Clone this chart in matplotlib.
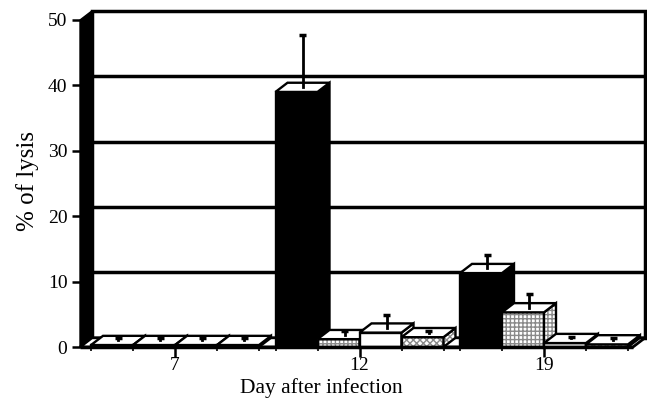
import matplotlib
matplotlib.use("Agg")
import matplotlib.pyplot as plt
from matplotlib.patches import Polygon

plt.rcParams['font.family'] = ['Liberation Serif', 'DejaVu Serif']
plt.rcParams['hatch.linewidth'] = 1.0

# ---- data ----
days = ['7', '12', '19']
black_vals = [0.3, 39.0, 11.3]
black_err = [0.4, 8.0, 2.0]
dotted_vals = [0.3, 1.2, 5.3]
dotted_err = [0.4, 0.5, 2.1]
white_vals = [0.3, 2.2, 0.6]
white_err = [0.4, 2.0, 0.3]
cross_vals = [0.3, 1.5, 0.4]
cross_err = [0.4, 0.3, 0.3]
yticks = [0, 10, 20, 30, 40, 50]

series = [
    (black_vals, black_err, dict(fc='black', hatch=None, hc=None)),
    (dotted_vals, dotted_err, dict(fc='white', hatch='++++', hc='#8a8a8a')),
    (white_vals, white_err, dict(fc='white', hatch=None, hc=None)),
    (cross_vals, cross_err, dict(fc='white', hatch='xxxxx', hc='#8a8a8a')),
]

# ---- geometry (pseudo 3D) ----
W, H = 647, 404
fig = plt.figure(figsize=(W / 100, H / 100), dpi=100)
px_per_cat = 184.5
px_per_unit = 6.54
y0_px = 347.0           # pixel row of value 0
c0_px = 175.0           # pixel column of first category
X0 = (80 - c0_px) / px_per_cat       # front-left of floor / wall
X1 = (633 - c0_px) / px_per_cat      # front-right of floor
DX = 12 / px_per_cat
DY = 9.2 / px_per_unit
YMAX = 50
xl_lim, xr_lim = X0, X1 + DX + 0.01
yb_lim, yt_lim = 0, 52

left_px = c0_px + xl_lim * px_per_cat
right_px = c0_px + xr_lim * px_per_cat
bot_px = y0_px - yb_lim * px_per_unit
top_px = y0_px - yt_lim * px_per_unit
ax = fig.add_axes([left_px / W, 1 - bot_px / H, (right_px - left_px) / W, (bot_px - top_px) / H])
ax.set_xlim(xl_lim, xr_lim)
ax.set_ylim(yb_lim, yt_lim)
for s in ax.spines.values():
    s.set_visible(False)

# back wall
wall = Polygon([(X0 + DX, DY), (X1 + DX, DY), (X1 + DX, YMAX + DY), (X0 + DX, YMAX + DY)],
               closed=True, fc='white', ec='black', lw=2.5, zorder=1, clip_on=False)
ax.add_patch(wall)
for v in yticks[1:-1]:
    ax.plot([X0 + DX, X1 + DX], [v + DY, v + DY], color='black', lw=2.5, zorder=1.1,
            solid_capstyle='butt', clip_on=False)

# left side wall (black)
side = Polygon([(X0, 0), (X0, YMAX), (X0 + DX, YMAX + DY), (X0 + DX, DY)],
               closed=True, fc='black', ec='black', lw=1, zorder=1.2, clip_on=False)
ax.add_patch(side)

# floor
floor = Polygon([(X0, 0), (X1, 0), (X1 + DX, DY), (X0 + DX, DY)],
                closed=True, fc='white', ec='black', lw=2, zorder=1.3, clip_on=False)
ax.add_patch(floor)

nser = len(series)
bw = 42 / px_per_cat
z = 2.0


def face(pts, style, zz):
    ax.add_patch(Polygon(pts, closed=True, fc=style['fc'], ec=style['hc'] or 'none',
                         hatch=style['hatch'], lw=0, zorder=zz, clip_on=False))
    ax.add_patch(Polygon(pts, closed=True, fill=False, ec='black', lw=1.7,
                         zorder=zz + 0.01, clip_on=False))


err_segments = []
for i in range(len(days)):
    for j, (vals, errs, style) in enumerate(series):
        v = vals[i]
        xl = i - nser / 2 * bw + j * bw
        xr = xl + bw
        face([(xl, 0), (xr, 0), (xr, v), (xl, v)], style, z)
        face([(xr, 0), (xr + DX, DY), (xr + DX, v + DY), (xr, v)], style, z + 0.02)
        top = {'fc': 'white', 'hatch': None, 'hc': None}
        face([(xl, v), (xr, v), (xr + DX, v + DY), (xl + DX, v + DY)], top, z + 0.04)
        z += 0.1
        xm = (xl + xr) / 2 + DX / 2
        err_segments.append((xm, v + DY / 2, v + errs[i] + DY / 2))

cap = 3.5 / px_per_cat
for xm, yb, yt in err_segments:
    ax.plot([xm, xm], [yb, yt], color='black', lw=2, zorder=20, clip_on=False)
    ax.plot([xm - cap, xm + cap], [yt, yt], color='black', lw=2.5, zorder=20,
            solid_capstyle='butt', clip_on=False)

# floor front edge
ax.plot([X0, X1], [0, 0], color='black', lw=2.5, zorder=30, clip_on=False,
        solid_capstyle='butt')

# ticks
ax.set_yticks(yticks)
ax.set_yticklabels([str(t) for t in yticks])
ax.set_xticks(range(len(days)))
ax.set_xticklabels(days)
minor = []
for i in range(len(days)):
    minor += [i - 2 * bw, i - bw, i + bw, i + 2 * bw]
ax.set_xticks(minor, minor=True)
ax.tick_params(axis='y', direction='out', length=6, width=1.8, pad=3, labelsize=14)
ax.tick_params(axis='x', which='major', direction='out', length=7, width=1.8, pad=0,
               labelsize=14)
ax.tick_params(axis='x', which='minor', direction='out', length=3, width=1.2)

fig.text(321 / W, 1 - 388 / H, 'Day after infection', ha='center', va='center', fontsize=15.5)
fig.text(28 / W, 1 - 181 / H, '% of lysis', ha='center', va='center', rotation=90, fontsize=18)

fig.savefig('out.png', dpi=100)
